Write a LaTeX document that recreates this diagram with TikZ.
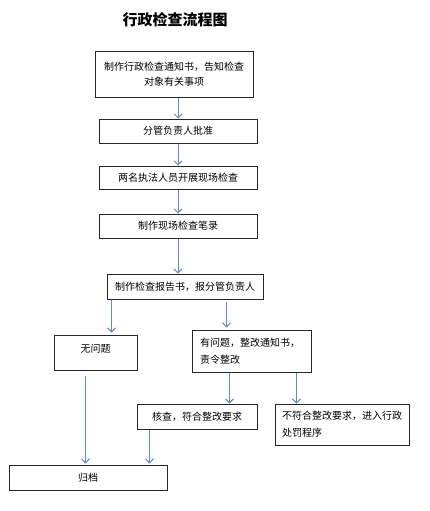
\documentclass[tikz,border=0pt]{standalone}
\usepackage{fontspec}
\newfontfamily\cjk{Noto Sans CJK SC}
\usetikzlibrary{arrows.meta}

\begin{document}
\begin{tikzpicture}[x=1pt,y=-1pt,
    box/.style={draw=black!85, line width=1pt, inner sep=0pt,
      font=\cjk\fontsize{10}{17}\selectfont},
    flow/.style={-{Straight Barb[length=4pt,width=8pt]},
      draw={rgb,255:red,91;green,139;blue,201}, line width=0.9pt}]
  \useasboundingbox (0,0) rectangle (429,511);
  \node (title) at (175,20) {\cjk\bfseries\fontsize{15}{18}\selectfont 行政检查流程图};
  \node[box, minimum width=158, minimum height=45, align=center,
    font=\cjk\fontsize{10}{15}\selectfont] (notice) at (174,74.5)
    {制作行政检查通知书，告知检查\\对象有关事项};
  \node[box, minimum width=158, minimum height=24] (approve) at (178,131) {分管负责人批准};
  \node[box, minimum width=158, minimum height=23] (inspect) at (178,177.5) {两名执法人员开展现场检查};
  \node[box, minimum width=158, minimum height=24] (record) at (178,226) {制作现场检查笔录};
  \node[box, minimum width=156, minimum height=25] (report) at (185,286.5) {制作检查报告书，报分管负责人};
  \node[box, minimum width=83, text height=13pt, text depth=14pt, inner ysep=4pt] (noissue) at (95.5,352.5) {无问题};
  \node[box, minimum width=119, minimum height=42, text width=103pt, align=left] (issue) at (251.5,351)
    {有问题，整改通知书，\\责令整改};
  \node[box, minimum width=120, minimum height=25] (recheck) at (197,416.5) {核查，符合整改要求};
  \node[box, minimum width=134, minimum height=41, text width=120pt, align=left] (penalty) at (342,424.5)
    {不符合整改要求，进入行政\\处罚程序};
  \node[box, minimum width=158, minimum height=25] (archive) at (88,477.5) {归档};
  \path[every edge/.append style={flow}]
    (notice.south -| approve.north) edge (approve.north)
    (approve) edge (inspect)
    (inspect) edge (record)
    (record.south) edge (record.south |- report.north);
  \draw[flow, shorten >=2pt] ([xshift=5pt]report.south west) -- ([xshift=5pt]report.south west |- noissue.north);
  \draw[flow, shorten <=2pt, shorten >=2pt] ([xshift=35pt]issue.north west |- report.south) -- ([xshift=35pt]issue.north west);
  \draw[flow] ([xshift=38pt]issue.south west) -- ([xshift=38pt]issue.south west |- recheck.north);
  \draw[flow] ([xshift=22pt]penalty.north west |- issue.south) -- ([xshift=22pt]penalty.north west);
  \draw[flow, shorten <=5pt, shorten >=1pt] ([xshift=-10pt]noissue.south) -- ([xshift=-10pt]noissue.south |- archive.north);
  \draw[flow, shorten >=1pt] ([xshift=13pt]recheck.south west) -- ([xshift=13pt]recheck.south west |- archive.north);
\end{tikzpicture}
\end{document}
